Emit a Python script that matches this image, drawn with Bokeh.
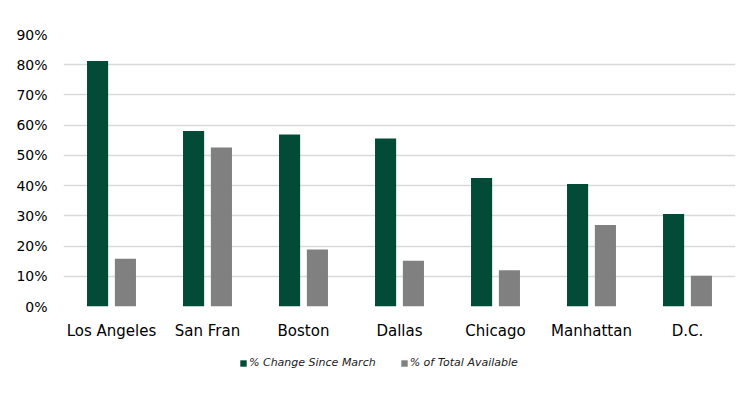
from bokeh.plotting import figure
from bokeh.layouts import column
from bokeh.models import ColumnDataSource, Range1d, FactorRange, NumeralTickFormatter, SingleIntervalTicker, Legend, LegendItem
from bokeh.transform import dodge
from bokeh.embed import file_html
from bokeh.resources import INLINE

cities = ["Los Angeles", "San Fran", "Boston", "Dallas", "Chicago", "Manhattan", "D.C."]
change_since_march = [0.812, 0.581, 0.569, 0.556, 0.425, 0.405, 0.306]
total_available = [0.158, 0.526, 0.189, 0.151, 0.120, 0.270, 0.102]
series_names = ["% Change Since March", "% of Total Available"]
colors = ["#024b37", "#808080"]

FONT = "DejaVu Sans"

src = ColumnDataSource(dict(city=cities, a=change_since_march, b=total_available))

p = figure(x_range=FactorRange(*cities), y_range=Range1d(0, 0.9),
           width=750, height=350, output_backend="svg", toolbar_location=None,
           min_border_left=63, min_border_right=15, min_border_top=34, min_border_bottom=44)
p.outline_line_color = None
p.background_fill_color = "white"
p.border_fill_color = "white"

r1 = p.vbar(x=dodge("city", -0.145, range=p.x_range), top="a", width=0.22, source=src,
            fill_color=colors[0], line_color=None)
r2 = p.vbar(x=dodge("city", 0.145, range=p.x_range), top="b", width=0.22, source=src,
            fill_color=colors[1], line_color=None)

p.xgrid.grid_line_color = None
p.ygrid.grid_line_color = "#d9d9d9"
p.ygrid.grid_line_width = 1.5
p.yaxis.ticker = SingleIntervalTicker(interval=0.1)
p.yaxis.formatter = NumeralTickFormatter(format="0%")

for ax in (p.xaxis[0], p.yaxis[0]):
    ax.axis_line_color = None
    ax.major_tick_line_color = None
    ax.minor_tick_line_color = None
    ax.major_label_text_font = FONT
    ax.major_label_text_color = "#000000"
p.yaxis.major_label_text_font_size = "14px"
p.xaxis.major_label_text_font_size = "15px"
p.yaxis.major_label_standoff = 10
p.xaxis.major_label_standoff = 9

# legend strip below the chart; its bars sit below the visible y window
lg = figure(width=750, height=48, x_range=FactorRange(*cities), y_range=Range1d(1, 2),
            output_backend="svg", toolbar_location=None,
            min_border_left=0, min_border_right=0, min_border_top=0, min_border_bottom=0)
lg.axis.visible = False
lg.grid.grid_line_color = None
lg.outline_line_color = None
lg.background_fill_color = "white"
lg.border_fill_color = "white"
d1 = lg.vbar(x="city", top="a", width=0.2, source=src, fill_color=colors[0], line_color=None)
d2 = lg.vbar(x="city", top="b", width=0.2, source=src, fill_color=colors[1], line_color=None)

legend = Legend(items=[LegendItem(label=series_names[0], renderers=[d1]),
                       LegendItem(label=series_names[1], renderers=[d2])],
                orientation="horizontal", location=(176, 29),
                label_text_font=FONT, label_text_font_style="italic",
                label_text_font_size="11px", label_text_color="#1a1a1a",
                glyph_width=8, glyph_height=8,
                label_standoff=2, spacing=24, padding=0, margin=0,
                border_line_color=None, background_fill_alpha=0)
lg.add_layout(legend, "center")

layout = column(p, lg, spacing=0)
open("out.html", "w").write(file_html(layout, INLINE))
